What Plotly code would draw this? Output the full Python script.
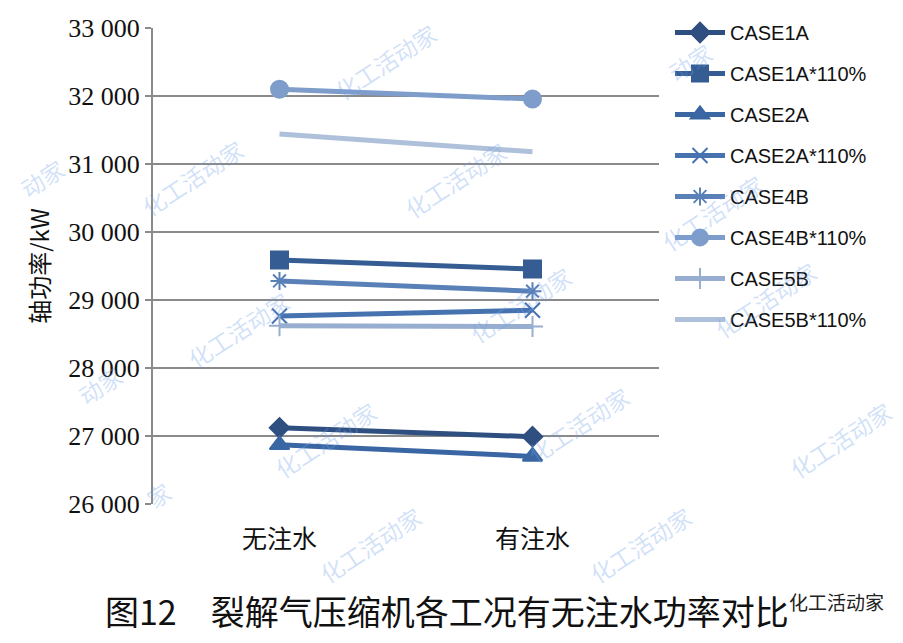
import plotly.graph_objects as go

categories = ["无注水", "有注水"]
series_names = ["CASE1A", "CASE1A*110%", "CASE2A", "CASE2A*110%",
                "CASE4B", "CASE4B*110%", "CASE5B", "CASE5B*110%"]
case1a = [27120, 26990]
case1a_110 = [29590, 29455]
case2a = [26870, 26700]
case2a_110 = [28765, 28850]
case4b = [29280, 29130]
case4b_110 = [32100, 31955]
case5b = [28620, 28610]
case5b_110 = [31440, 31180]
y_tickvals = [26000, 27000, 28000, 29000, 30000, 31000, 32000, 33000]
y_ticktext = ["26 000", "27 000", "28 000", "29 000", "30 000", "31 000", "32 000", "33 000"]

values = [case1a, case1a_110, case2a, case2a_110, case4b, case4b_110, case5b, case5b_110]
colors = ["#2F4F80", "#355C93", "#3A66A3", "#4673B0", "#5A80B8", "#7F9DCB", "#97AED0", "#AFC0DA"]
symbols = ["diamond", "square", "triangle-up", "x-thin-open", "asterisk-open", "circle", "cross-thin-open", None]
sizes = [15, 17, 17, 15, 15, 17, 15, 0]

# browser body has an 8px margin; figure drawn at (8,8)
OFF = 8
W, H = 903 - OFF, 643 - OFF
PL, PT, PR, PB = 153, 28, 659, 504  # plot area in window pixels

fig = go.Figure()
for i, (name, vals) in enumerate(zip(series_names, values)):
    mk = dict(color=colors[i], size=sizes[i], line=dict(color=colors[i], width=2))
    if symbols[i]:
        mk["symbol"] = symbols[i]
    fig.add_trace(go.Scatter(
        x=categories, y=vals, name=name, legendgroup=name,
        mode="lines+markers" if symbols[i] else "lines",
        line=dict(color=colors[i], width=5),
        marker=mk,
    ))


def px_x(px):
    return (px - PL) / (PR - PL)


def px_y(py):
    return 1 - (py - PT) / (PB - PT)


# watermarks (full and partial)
wm = [("化工活动家", 385, 62), ("化工活动家", 192, 178), ("化工活动家", 455, 180),
      ("动家", 690, 62), ("化工活动家", 712, 213), ("化工活动家", 238, 330),
      ("化工活动家", 520, 305), ("化工活动家", 765, 300), ("动家", 100, 385),
      ("化工活动家", 325, 440), ("化工活动家", 578, 425), ("化工活动家", 840, 440),
      ("家", 158, 495), ("化工活动家", 370, 545), ("化工活动家", 640, 545),
      ("动家", 42, 178)]
for (txt, px, py) in wm:
    fig.add_annotation(text=txt, xref="paper", yref="paper",
                       x=px_x(px), y=px_y(py), showarrow=False,
                       xanchor="center", yanchor="middle",
                       textangle=-33, font=dict(family="Noto Sans CJK SC", size=23,
                                                color="rgba(110,160,235,0.33)"))

fig.add_annotation(text="图12　裂解气压缩机各工况有无注水功率对比", xref="paper", yref="paper",
                   x=px_x(447), y=px_y(610), showarrow=False,
                   xanchor="center", yanchor="middle",
                   font=dict(family="Noto Sans CJK SC", size=34, color="#111"))
fig.add_annotation(text="化工活动家", xref="paper", yref="paper",
                   x=px_x(836), y=px_y(601), showarrow=False,
                   xanchor="center", yanchor="middle",
                   font=dict(family="Noto Sans CJK SC", size=19, color="#222"))

fig.update_layout(
    width=W, height=H,
    margin=dict(l=PL - OFF, r=W - (PR - OFF), t=PT - OFF, b=H - (PB - OFF)),
    plot_bgcolor="white", paper_bgcolor="white",
    showlegend=True,
    legend=dict(xref="container", yref="container", x=(670 - OFF) / W, y=1 - (13 - OFF) / H,
                xanchor="left", yanchor="top", tracegroupgap=12, maxheight=600,
                font=dict(family="Liberation Sans", size=20, color="#111"),
                itemwidth=50, bgcolor="rgba(0,0,0,0)"),
    xaxis=dict(type="category", range=[-0.5, 1.5], showgrid=False, showline=False,
               ticks="", ticklabelstandoff=18, automargin=False,
               tickfont=dict(family="Noto Sans CJK SC", size=25, color="#111")),
    yaxis=dict(range=[26000, 33000], tickvals=y_tickvals, ticktext=y_ticktext,
               showgrid=True, gridcolor="#8a8a8a", gridwidth=1.5,
               showline=True, linecolor="#8a8a8a", linewidth=2,
               ticks="outside", ticklen=6, tickcolor="#8a8a8a", tickwidth=1.5,
               zeroline=False, automargin=False,
               tickfont=dict(family="Liberation Serif", size=26, color="#111"),
               title=dict(text="轴功率/kW", standoff=12,
                          font=dict(family="Noto Sans CJK SC", size=24, color="#111"))),
)

fig.write_html("out.html")
